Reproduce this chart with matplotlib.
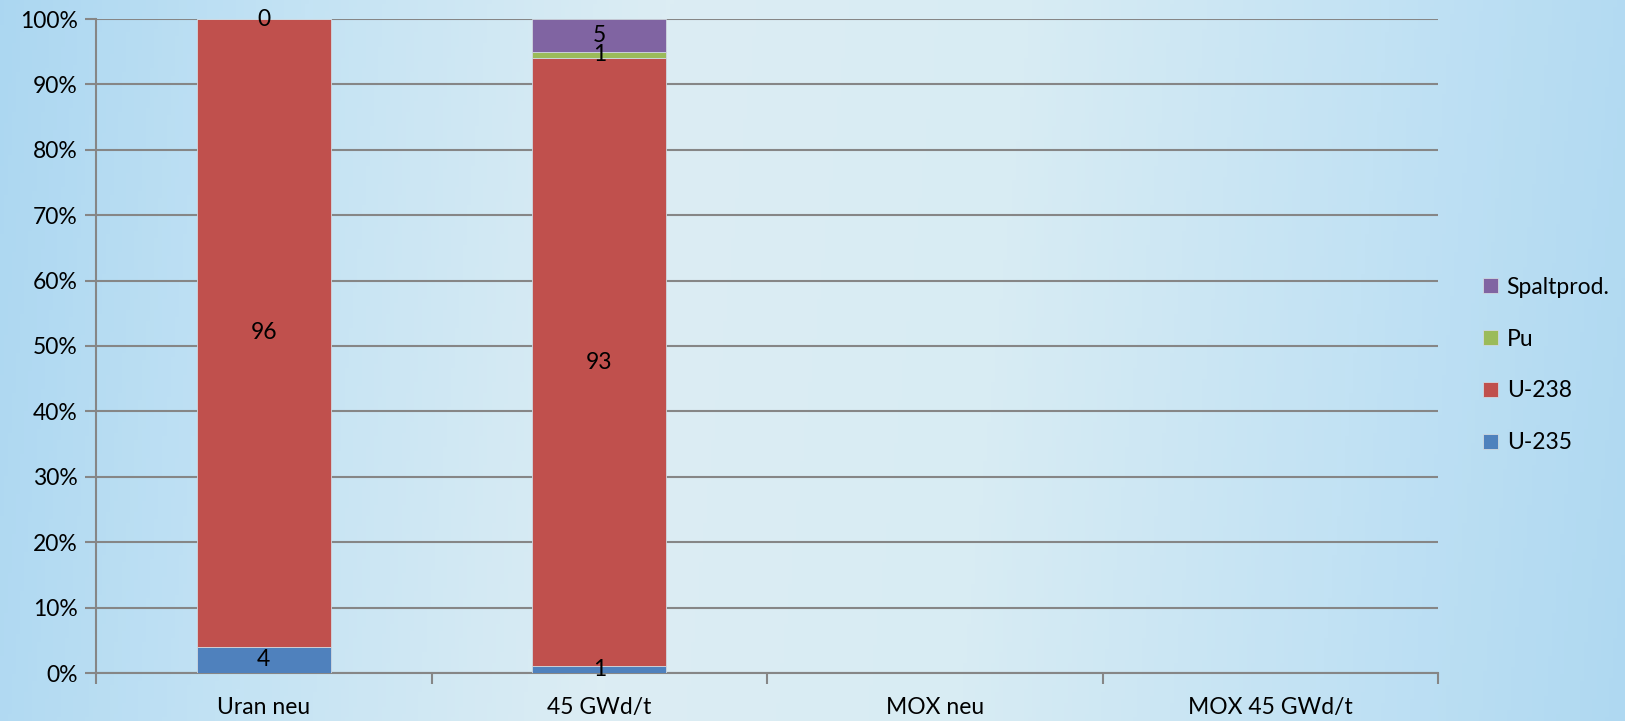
import numpy as np
import matplotlib.pyplot as plt
from matplotlib.colors import LinearSegmentedColormap

# Zusammensetzung des Brennstoffs in Prozent
categories = ["Uran neu", "45 GWd/t", "MOX neu", "MOX 45 GWd/t"]
u235 = [4, 1, 0, 0]
u238 = [96, 93, 0, 0]
pu = [0, 1, 0, 0]
spaltprod = [0, 5, 0, 0]

series = [("U-235", u235, "#4F81BD"),
          ("U-238", u238, "#C0504D"),
          ("Pu", pu, "#9BBB59"),
          ("Spaltprod.", spaltprod, "#8064A2")]


def main():
    plt.rcParams['font.family'] = ['Lato', 'DejaVu Sans']
    fig = plt.figure(figsize=(16.25, 7.21), dpi=100)

    # background gradient, light in the middle, bluer at the edges
    bg = fig.add_axes([0, 0, 1, 1], zorder=-10)
    cmap = LinearSegmentedColormap.from_list(
        "bg", ["#a8d5f1", "#c4e3f4", "#dcedf3", "#d8ecf3", "#c2e2f4", "#acd7f1"])
    xx = np.linspace(0, 1, 400)
    yy = np.linspace(0, 1, 200)
    gx, gy = np.meshgrid(xx, yy)
    grad = gx * 0.9 + 0.05 + (gy - 0.5) * 0.04
    bg.imshow(grad, cmap=cmap, aspect="auto", extent=[0, 1, 0, 1], vmin=0, vmax=1)
    bg.axis("off")

    ax = fig.add_axes([96 / 1625, 1 - 673 / 721, (1438 - 96) / 1625, (673 - 19) / 721])
    ax.patch.set_alpha(0)

    fs = 16.5
    x = np.arange(len(categories))
    bottom = np.zeros(len(categories))
    for name, vals, color in series:
        vals = np.array(vals, dtype=float)
        ax.bar(x, vals, 0.4, bottom=bottom, color=color, label=name,
               edgecolor="#d0d8e0", linewidth=0.6, zorder=3)
        for i, v in enumerate(vals):
            if v > 0:
                ax.text(x[i], bottom[i] + v / 2, f"{v:g}", ha="center", va="center",
                        fontsize=fs, zorder=4)
        bottom += vals
    # Wert 0 an der Oberkante der ersten Säule
    ax.text(x[0], 100, "0", ha="center", va="center", fontsize=fs, zorder=4)

    ax.set_xlim(-0.5, len(categories) - 0.5)
    ax.set_ylim(0, 100)
    ax.set_yticks(np.arange(0, 101, 10))
    ax.set_yticklabels([f"{t}%" for t in range(0, 101, 10)], fontsize=fs)
    ax.set_xticks(x)
    ax.set_xticklabels(categories, fontsize=fs)
    ax.set_xticks(np.arange(-0.5, len(categories), 1), minor=True)
    ax.tick_params(axis="x", which="major", length=0, pad=17)
    ax.tick_params(axis="x", which="minor", length=8, color="#868686", width=1.5)
    ax.tick_params(axis="y", length=8, color="#868686", width=1.5, pad=5)
    ax.yaxis.grid(True, color="#868686", linewidth=1.5, zorder=0)
    ax.set_axisbelow(True)
    for s in ["top", "right"]:
        ax.spines[s].set_visible(False)
    for s in ["left", "bottom"]:
        ax.spines[s].set_color("#868686")
        ax.spines[s].set_linewidth(1.5)

    handles, labels = ax.get_legend_handles_labels()
    fig.legend(handles[::-1], labels[::-1], loc="center left",
               bbox_to_anchor=(1462 / 1625, 1 - 365 / 721), frameon=False,
               fontsize=fs, handlelength=0.65, handleheight=0.65,
               labelspacing=1.35, handletextpad=0.4)

    fig.savefig("out.png", dpi=100)


if __name__ == '__main__':
    main()
